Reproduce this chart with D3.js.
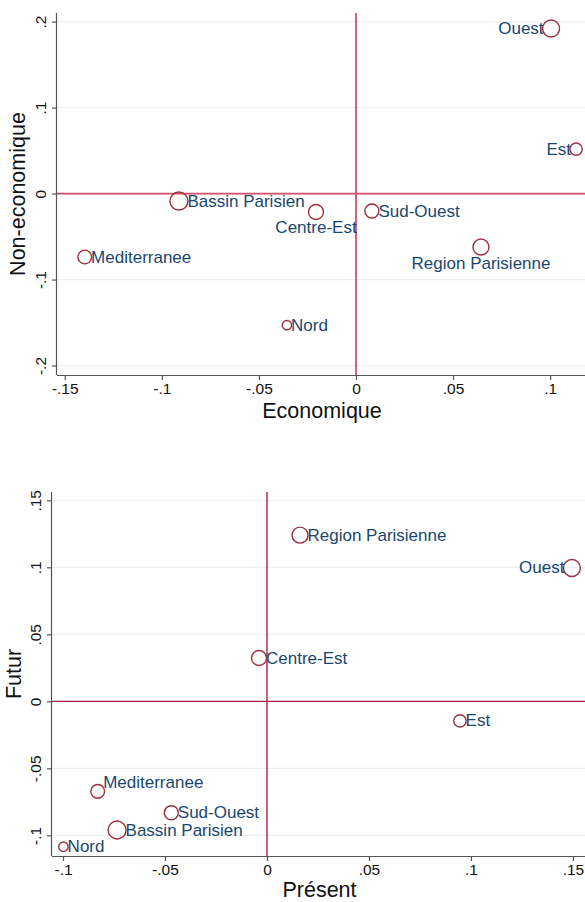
<!DOCTYPE html>
<html>
<head>
<meta charset="utf-8">
<script src="https://cdn.jsdelivr.net/npm/d3@7"></script>
<style>
  html, body { margin: 0; padding: 0; background: #fff; }
  svg { display: block; font-family: "Liberation Sans", Arial, Helvetica, sans-serif; }
</style>
</head>
<body>
<svg id="chart" width="585" height="902"></svg>
<script>
// Regions of France
const regions = ["Ouest", "Est", "Bassin Parisien", "Centre-Est", "Sud-Ouest", "Mediterranee", "Region Parisienne", "Nord"];
// Relative weight of each region (marker area)
const poids = [72, 38, 81, 56, 49, 47, 64, 22];

// First map: economic vs non-economic dimension
const economique    = [0.1005, 0.1134, -0.0912, -0.0206, 0.0082, -0.1397, 0.0644, -0.0356];
const nonEconomique = [0.192, 0.0517, -0.0087, -0.0215, -0.0203, -0.0738, -0.0622, -0.153];
const ticksEcoX = [-0.15, -0.1, -0.05, 0, 0.05, 0.1];
const ticksEcoY = [-0.2, -0.1, 0, 0.1, 0.2];
// clock position of each label around its marker
const labelPosEco = [9, 9, 3, 6, 3, 3, 6, 3];

// Second map: present vs future
const present = [0.1495, 0.0946, -0.0735, -0.0039, -0.0469, -0.0830, 0.0162, -0.0998];
const futur   = [0.0995, -0.0146, -0.096, 0.0323, -0.0831, -0.0672, 0.124, -0.1085];
const ticksTempsX = [-0.1, -0.05, 0, 0.05, 0.1, 0.15];
const ticksTempsY = [-0.1, -0.05, 0, 0.05, 0.1, 0.15];
const labelPosTemps = [9, 3, 3, 3, 3, 2, 3, 3];

const svg = d3.select("#chart");
const navy = "#1a476f";
const markerColor = "#9e2f3f";

// Stata-like number format: ".1", "-.05", "0"
function fmt(v) {
  if (Math.abs(v) < 1e-12) return "0";
  return String(+v.toFixed(3)).replace(/^(-?)0\./, "$1.");
}

const rScale = d3.scaleSqrt().domain([0, d3.max(poids)]).range([0, 9]);

function drawPanel(opts) {
  const { left, right, top, bottom, xDomain, yDomain, xTicks, yTicks,
          xs, ys, pos, xTitle, yTitle, refColor, refWidth, yTitleX, xTitleGap } = opts;
  const x = d3.scaleLinear().domain(xDomain).range([left, right]);
  const y = d3.scaleLinear().domain(yDomain).range([bottom, top]);
  const g = svg.append("g");

  // horizontal grid
  g.append("g").selectAll("line").data(yTicks).join("line")
    .attr("x1", left).attr("x2", right)
    .attr("y1", d => y(d)).attr("y2", d => y(d))
    .attr("stroke", "#e8f0f2").attr("stroke-width", 1.2);

  // reference lines through the origin
  g.append("line").attr("x1", left).attr("x2", right)
    .attr("y1", y(0)).attr("y2", y(0))
    .attr("stroke", refColor).attr("stroke-width", refWidth);
  g.append("line").attr("x1", x(0)).attr("x2", x(0))
    .attr("y1", top).attr("y2", bottom)
    .attr("stroke", refColor).attr("stroke-width", refWidth);

  // axes
  const xAxis = d3.axisBottom(x).tickValues(xTicks).tickFormat(fmt).tickSize(5).tickPadding(3);
  const gx = g.append("g").attr("transform", `translate(0,${bottom})`).call(xAxis);
  gx.select(".domain").attr("d", `M${left},0.5H${right}`).attr("stroke", "#555").attr("stroke-width", 1.2);
  gx.selectAll(".tick line").attr("stroke", "#555").attr("stroke-width", 1.2);
  gx.selectAll(".tick text").attr("font-size", 15.5).attr("fill", "#111")
    .attr("font-family", "Liberation Sans, Arial, sans-serif");

  const yAxis = d3.axisLeft(y).tickValues(yTicks).tickFormat(fmt).tickSize(5).tickPadding(3);
  const gy = g.append("g").attr("transform", `translate(${left},0)`).call(yAxis);
  gy.select(".domain").attr("d", `M-0.5,${top}V${bottom}`).attr("stroke", "#555").attr("stroke-width", 1.2);
  gy.selectAll(".tick line").attr("stroke", "#555").attr("stroke-width", 1.2);
  gy.selectAll(".tick text")
    .attr("font-size", 15.5).attr("fill", "#111")
    .attr("font-family", "Liberation Sans, Arial, sans-serif")
    .attr("text-anchor", "middle")
    .attr("x", null).attr("dy", null)
    .attr("dominant-baseline", "central")
    .attr("transform", "translate(-17,0) rotate(-90)");

  // axis titles
  g.append("text").attr("x", (left + right) / 2).attr("y", bottom + xTitleGap)
    .attr("text-anchor", "middle").attr("font-size", 21.5).attr("fill", "#111")
    .text(xTitle);
  g.append("text")
    .attr("transform", `translate(${yTitleX},${(top + bottom) / 2}) rotate(-90)`)
    .attr("text-anchor", "middle").attr("dominant-baseline", "central")
    .attr("font-size", 21.5).attr("fill", "#111")
    .text(yTitle);

  // markers and labels
  const data = regions.map((name, i) => ({ name, x: xs[i], y: ys[i], r: rScale(poids[i]), pos: pos[i] }));
  const pts = g.append("g").selectAll("g").data(data).join("g")
    .attr("transform", d => `translate(${x(d.x)},${y(d.y)})`);
  pts.append("circle").attr("r", d => d.r)
    .attr("fill", "none").attr("stroke", markerColor).attr("stroke-width", 1.4);
  pts.append("text")
    .attr("font-size", 17).attr("fill", navy)
    .attr("dominant-baseline", "central")
    .attr("text-anchor", d => d.pos === 9 ? "end" : d.pos === 6 ? "middle" : "start")
    .attr("x", d => d.pos === 9 ? -d.r + 1 : d.pos === 6 ? 0 : d.pos === 2 ? d.r * 0.8 : d.r - 0.5)
    .attr("y", d => d.pos === 6 ? d.r + 8 : d.pos === 2 ? -d.r - 2 : 0)
    .text(d => d.name);
}

drawPanel({
  left: 57, right: 587, top: 13, bottom: 375,
  xDomain: [-0.154, 0.119], yDomain: [-0.211, 0.21],
  xTicks: ticksEcoX, yTicks: ticksEcoY,
  xs: economique, ys: nonEconomique, pos: labelPosEco,
  xTitle: "Economique", yTitle: "Non-economique",
  refColor: "#d24f6d", refWidth: 1.8, yTitleX: 18, xTitleGap: 43
});

drawPanel({
  left: 52, right: 587, top: 492, bottom: 856,
  xDomain: [-0.1054, 0.1569], yDomain: [-0.1154, 0.1562],
  xTicks: ticksTempsX, yTicks: ticksTempsY,
  xs: present, ys: futur, pos: labelPosTemps,
  xTitle: "Présent", yTitle: "Futur",
  refColor: "#b31b44", refWidth: 1.4, yTitleX: 14, xTitleGap: 41
});
</script>
</body>
</html>
